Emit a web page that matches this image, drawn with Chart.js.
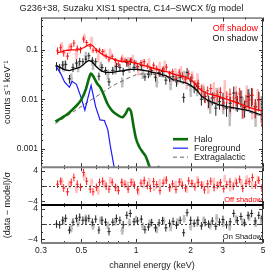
<!DOCTYPE html>
<html><head><meta charset="utf-8">
<script src="https://cdn.jsdelivr.net/npm/chart.js"></script>
<style>html,body{margin:0;padding:0;background:#fff;overflow:hidden}</style>
</head><body>
<canvas id="c" width="274" height="274" style="width:274px;height:274px;display:block"></canvas>
<script>
const chartTitle = 'G236+38, Suzaku XIS1 spectra, C14\u2013SWCX f/g model';
const xTicks = [0.3, 0.5, 1, 2, 3, 5];
const xMinorTicks = [0.4, 0.6, 0.7, 0.8, 0.9, 4];
const residTicks = [-4, 0, 4];
const residMinorTicks = [-2, 2];

// Off shadow spectrum
const offE = [0.37,0.385,0.40,0.42,0.44,0.455,0.475,0.495,0.515,0.535,0.56,0.58,0.605,0.63,0.655,0.685,0.71,0.74,0.77,0.80,0.835,0.87,0.905,0.94,0.98,1.02,1.065,1.11,1.155,1.2,1.25,1.3,1.355,1.41,1.47,1.53,1.59,1.66,1.73,1.8,1.87,1.95,2.03,2.11,2.2,2.29,2.38,2.48,2.58,2.69,2.8,2.92,3.04,3.16,3.29,3.43,3.57,3.72,3.87,4.03,4.2,4.37,4.55,4.74,4.93];
const offVal = [0.0955,0.110,0.0865,0.0745,0.116,0.137,0.1075,0.100,0.165,0.140,0.1175,0.098,0.0965,0.0985,0.0925,0.074,0.0633,0.0739,0.0607,0.0514,0.065,0.0615,0.0524,0.0627,0.056,0.0461,0.0552,0.0574,0.0472,0.0406,0.0491,0.0422,0.0325,0.0411,0.0446,0.0329,0.036,0.0265,0.0353,0.030,0.0256,0.0326,0.0272,0.0202,0.0206,0.016,0.0109,0.0148,0.0164,0.0108,0.0121,0.0137,0.0084,0.0112,0.0126,0.009,0.0107,0.0128,0.0061,0.009,0.0097,0.012,0.0069,0.0095,0.0046];
const offErr = [0.17,0.17,0.16,0.16,0.16,0.16,0.15,0.15,0.14,0.13,0.12,0.12,0.12,0.12,0.12,0.12,0.12,0.12,0.12,0.12,0.12,0.12,0.12,0.12,0.12,0.13,0.13,0.13,0.13,0.13,0.14,0.14,0.14,0.14,0.15,0.15,0.15,0.16,0.16,0.17,0.17,0.18,0.19,0.2,0.21,0.22,0.22,0.23,0.24,0.25,0.26,0.27,0.28,0.29,0.3,0.31,0.32,0.33,0.34,0.35,0.36,0.37,0.38,0.39,0.4];
const offModel = [0.088,0.09,0.094,0.098,0.1,0.1,0.1,0.105,0.11,0.12,0.13,0.12,0.1,0.088,0.08,0.074,0.07,0.066,0.063,0.06,0.058,0.058,0.058,0.056,0.054,0.053,0.05,0.048,0.046,0.044,0.042,0.04,0.039,0.037,0.036,0.035,0.033,0.031,0.03,0.029,0.028,0.026,0.024,0.021,0.017,0.015,0.014,0.013,0.0125,0.012,0.0115,0.011,0.0105,0.01,0.0095,0.009,0.0085,0.008,0.0076,0.0072,0.0068,0.0065,0.0062,0.006,0.0058];
const offResid = [0.5,1.3,-0.5,-1.5,1.0,2.3,0.5,-0.3,3.6,1.3,-0.8,-1.5,-0.3,1.0,1.3,0.0,-0.8,1.0,-0.3,-1.2,1.0,0.5,-0.8,1.0,0.3,-1.0,0.8,1.5,0.2,-0.6,1.2,0.4,-1.2,0.8,1.6,-0.4,0.6,-0.9,1.1,0.2,-0.5,1.4,0.7,-0.2,1.0,0.3,-1.0,0.6,1.3,-0.4,0.2,0.9,-0.7,0.4,1.1,0.0,0.8,1.8,-0.6,0.7,1.2,2.3,0.3,1.5,-0.5];

// On shadow spectrum
const onE = [0.365,0.38,0.395,0.41,0.43,0.45,0.47,0.49,0.51,0.53,0.55,0.575,0.6,0.625,0.65,0.68,0.71,0.745,0.78,0.815,0.85,0.89,0.93,0.975,1.02,1.07,1.12,1.17,1.22,1.28,1.34,1.4,1.46,1.53,1.6,1.67,1.75,1.83,1.91,2.0,2.09,2.19,2.29,2.4,2.51,2.63,2.75,2.88,3.01,3.15,3.3,3.45,3.61,3.78,3.96,4.14,4.33,4.53,4.74,4.95];
const onVal = [0.047,0.0432,0.0492,0.0507,0.0258,0.044,0.054,0.0583,0.0573,0.065,0.0756,0.0616,0.0574,0.0292,0.0437,0.0382,0.0224,0.0382,0.0457,0.0437,0.0366,0.0551,0.059,0.0441,0.0454,0.0476,0.0283,0.032,0.0375,0.0279,0.0348,0.0363,0.0243,0.0281,0.0285,0.0225,0.0278,0.0109,0.0349,0.0234,0.0174,0.0181,0.01,0.0114,0.0092,0.0106,0.0066,0.0089,0.0102,0.0066,0.0083,0.0133,0.0086,0.011,0.0068,0.0113,0.012,0.0071,0.0099,0.008];
const onErr = [0.2,0.2,0.2,0.2,0.2,0.2,0.19,0.18,0.17,0.16,0.16,0.16,0.17,0.18,0.18,0.18,0.18,0.18,0.18,0.18,0.18,0.18,0.17,0.17,0.17,0.17,0.17,0.17,0.18,0.18,0.18,0.19,0.19,0.2,0.2,0.21,0.21,0.22,0.22,0.23,0.24,0.25,0.26,0.27,0.28,0.29,0.3,0.31,0.32,0.33,0.34,0.35,0.36,0.37,0.38,0.4,0.41,0.42,0.43,0.44];
const onModel = [0.047,0.045,0.041,0.039,0.038,0.04,0.042,0.044,0.049,0.056,0.061,0.057,0.047,0.041,0.037,0.035,0.035,0.035,0.036,0.037,0.038,0.039,0.04,0.04,0.04,0.039,0.038,0.037,0.035,0.034,0.033,0.031,0.03,0.027,0.025,0.024,0.023,0.022,0.021,0.019,0.017,0.0145,0.0115,0.0103,0.0092,0.0086,0.0081,0.0077,0.0074,0.0071,0.0069,0.0067,0.0065,0.0063,0.0061,0.0059,0.0056,0.0053,0.005,0.0048];
const onResid = [0.0,-0.2,1.0,1.5,-1.6,0.5,1.5,1.8,1.0,1.0,1.5,0.5,1.3,-1.6,1.0,0.5,-2.0,0.5,1.5,1.0,-0.2,2.3,2.8,0.6,0.8,1.3,-1.5,-0.8,0.4,-1.0,0.3,0.9,-1.0,0.2,0.7,-0.3,1.0,-2.3,3.0,1.0,0.2,1.0,-0.5,0.4,0.0,0.8,-0.6,0.5,1.2,-0.2,0.6,2.8,0.9,2.0,0.3,2.3,2.8,0.8,2.3,1.5];

// Second (faint) spectra
const offFaintE = [0.39,0.43,0.47,0.52,0.57,0.62,0.67,0.72,0.78,0.84,0.9,0.96,1.03,1.1,1.18,1.26,1.35,1.44,1.54,1.65,1.77,1.9,2.04,2.18,2.34,2.5,2.68,2.87,3.08,3.3,3.54,3.8,4.07,4.36,4.68];
const offFaintVal = [0.1175,0.1077,0.0824,0.1736,0.1536,0.070,0.0874,0.0883,0.0558,0.0673,0.0603,0.066,0.0371,0.0528,0.0554,0.0392,0.0468,0.0486,0.0301,0.0341,0.0371,0.0213,0.0286,0.0261,0.0158,0.009,0.0166,0.0129,0.0177,0.0081,0.0132,0.0105,0.0131,0.0072,0.0109];
const offFaintErr = [0.22,0.22,0.22,0.22,0.2,0.2,0.2,0.2,0.2,0.2,0.2,0.2,0.2,0.21,0.22,0.22,0.22,0.23,0.24,0.25,0.25,0.26,0.27,0.28,0.3,0.31,0.32,0.34,0.36,0.38,0.4,0.42,0.44,0.46,0.48];
const offFaintResid = [1.2,0.4,-0.8,2.5,1.0,-1.2,0.6,1.4,-0.5,0.8,0.2,1.0,-1.5,0.5,1.2,-0.3,0.9,1.5,-0.6,0.4,1.1,-0.8,0.7,1.6,0.3,-1.0,1.2,0.5,2.0,-0.4,1.3,0.8,1.9,0.2,1.7];
const onFaintE = [0.4,0.44,0.48,0.53,0.58,0.64,0.7,0.77,0.84,0.92,1.0,1.09,1.19,1.3,1.42,1.55,1.69,1.84,2.0,2.17,2.36,2.56,2.78,3.02,3.28,3.56,3.86,4.19,4.55,4.9];
const onFaintVal = [0.048,0.0266,0.0461,0.0745,0.0498,0.0467,0.0326,0.041,0.0223,0.0435,0.0506,0.033,0.0366,0.0224,0.0358,0.0202,0.0266,0.0296,0.0153,0.0164,0.0139,0.0077,0.0125,0.008,0.0047,0.0101,0.0075,0.0109,0.0057,0.0074];
const onFaintErr = [0.25,0.25,0.24,0.22,0.22,0.23,0.23,0.23,0.23,0.22,0.22,0.22,0.23,0.23,0.24,0.25,0.26,0.27,0.28,0.3,0.32,0.34,0.36,0.38,0.4,0.43,0.46,0.49,0.52,0.55];
const onFaintResid = [0.8,-1.2,0.3,1.5,-0.5,1.0,-0.3,0.6,-1.8,0.4,1.2,-0.6,0.2,-1.4,0.8,-0.9,0.5,1.4,-0.7,0.3,1.0,-0.4,1.6,0.2,-0.8,1.3,0.5,1.8,0.2,1.0];

// Model components
const haloE = [0.36,0.39,0.42,0.46,0.5,0.53,0.55,0.565,0.585,0.61,0.635,0.66,0.7,0.74,0.79,0.84,0.88,0.91,0.94,0.97,1.0,1.04,1.08,1.13,1.19,1.26,1.31,1.33,1.36,1.42,1.7];
const haloVal = [0.0035,0.0042,0.005,0.0068,0.0098,0.016,0.026,0.033,0.028,0.021,0.0175,0.013,0.0078,0.0058,0.0048,0.0043,0.0052,0.0065,0.0055,0.0028,0.0016,0.0011,0.00088,0.0007,0.00042,0.00026,0.00036,0.00043,0.00035,0.0002,0.00008];
const fgE = [0.365,0.385,0.405,0.43,0.445,0.47,0.5,0.523,0.545,0.566,0.6,0.634,0.67,0.70,0.72,0.76,0.8];
const fgVal = [0.045,0.033,0.022,0.0175,0.023,0.02,0.0105,0.006,0.011,0.019,0.007,0.0038,0.0037,0.0024,0.0012,0.0004,0.0001];
const egE = [0.36,0.45,0.55,0.65,0.75,0.85,1.0,1.15,1.3,1.5,1.75,2.0,2.2,2.4,2.7,3.0,3.5,4.0,4.5,5.0];
const egVal = [0.0032,0.0055,0.009,0.0135,0.019,0.024,0.031,0.033,0.031,0.027,0.022,0.018,0.0135,0.0098,0.0078,0.007,0.0063,0.0058,0.005,0.0045];

const FONT = "'Liberation Sans', Arial, sans-serif";
const TXT = '#222';

function xExtent(xs, frac){
  return xs.map((x,i)=>{
    const a = i>0 ? Math.log(x/xs[i-1]) : Math.log(xs[i+1]/x);
    const b = i<xs.length-1 ? Math.log(xs[i+1]/x) : a;
    return [x*Math.exp(-a*frac), x*Math.exp(b*frac)];
  });
}
function crosses(xs, ys, lo, hi, frac){
  const w = xExtent(xs, frac), pts = [];
  xs.forEach((x,i)=>{
    pts.push({x:x,y:lo[i]},{x:x,y:hi[i]},{x:x,y:null},{x:w[i][0],y:ys[i]},{x:w[i][1],y:ys[i]},{x:x,y:null});
  });
  return pts;
}
const specCross = (xs, v, e, f) => crosses(xs, v, v.map((a,i)=>a*(1-e[i])), v.map((a,i)=>a*(1+e[i])), f);
const residCross = (xs, r, f) => crosses(xs, r, r.map(a=>a-1), r.map(a=>a+1), f);
const pairs = (xs, ys) => xs.map((x,i)=>({x:x, y:ys[i]}));

const base = {pointRadius:0, pointHoverRadius:0, fill:false, spanGaps:false, borderCapStyle:'butt'};
const datasets = [
  {...base, label:'Halo', data:pairs(haloE, haloVal), borderColor:'#0a6e0a', borderWidth:2.6, cubicInterpolationMode:'monotone', yAxisID:'y', order:1},
  {...base, label:'Foreground', data:pairs(fgE, fgVal), borderColor:'#1a1aff', borderWidth:1.2, tension:0, yAxisID:'y', order:2},
  {...base, label:'Extragalactic', data:pairs(egE, egVal), borderColor:'#666', borderWidth:1, borderDash:[4,3], tension:0.2, yAxisID:'y', order:3},
  {...base, label:'Off model', data:pairs(offE, offModel), borderColor:'#ff0000', borderWidth:1.3, yAxisID:'y', order:4},
  {...base, label:'On model', data:pairs(onE, onModel), borderColor:'#000', borderWidth:1.3, yAxisID:'y', order:5},
  {...base, label:'Off data', data:specCross(offE, offVal, offErr, 0.45), borderColor:'#ff1a1a', borderWidth:1, yAxisID:'y', order:6},
  {...base, label:'On data', data:specCross(onE, onVal, onErr, 0.45), borderColor:'#222', borderWidth:1, yAxisID:'y', order:7},
  {...base, label:'Off data 2', data:specCross(offFaintE, offFaintVal, offFaintErr, 0.25), borderColor:'rgba(255,60,60,0.32)', borderWidth:2.5, yAxisID:'y', order:8},
  {...base, label:'On data 2', data:specCross(onFaintE, onFaintVal, onFaintErr, 0.25), borderColor:'rgba(0,0,0,0.26)', borderWidth:2.5, yAxisID:'y', order:9},
  {...base, label:'Off resid', data:residCross(offE, offResid, 0.45), borderColor:'#ff1a1a', borderWidth:1, yAxisID:'yr1', order:10},
  {...base, label:'Off resid 2', data:residCross(offFaintE, offFaintResid, 0.25), borderColor:'rgba(255,60,60,0.32)', borderWidth:2.5, yAxisID:'yr1', order:11},
  {...base, label:'On resid', data:residCross(onE, onResid, 0.45), borderColor:'#222', borderWidth:1, yAxisID:'yr2', order:12},
  {...base, label:'On resid 2', data:residCross(onFaintE, onFaintResid, 0.25), borderColor:'rgba(0,0,0,0.26)', borderWidth:2.5, yAxisID:'yr2', order:13}
];
const legendLabels = ['Halo','Foreground','Extragalactic'];

const panelClip = {
  id:'panelClip',
  beforeDatasetDraw(chart, args){
    const ds = chart.data.datasets[args.index];
    const s = chart.scales[ds.yAxisID];
    const ctx = chart.ctx;
    ctx.save(); ctx.beginPath();
    ctx.rect(chart.chartArea.left, s.top, chart.chartArea.right-chart.chartArea.left, s.bottom-s.top);
    ctx.clip();
  },
  afterDatasetDraw(chart){ chart.ctx.restore(); }
};

const frame = {
  id:'frame',
  afterDatasetsDraw(chart){
    const ctx = chart.ctx, x = chart.scales.x, y = chart.scales.y, r1 = chart.scales.yr1, r2 = chart.scales.yr2;
    const L = x.left, R = x.right;
    ctx.save();
    const seg = (a,b,c,d)=>{ctx.beginPath();ctx.moveTo(a,b);ctx.lineTo(c,d);ctx.stroke();};
    ctx.strokeStyle = '#444'; ctx.lineWidth = 1; ctx.setLineDash([2,2]);
    [r1,r2].forEach(s=>{const py=Math.round(s.getPixelForValue(0))+0.5; seg(L,py,R,py);});
    ctx.setLineDash([]);
    ctx.strokeStyle = '#333'; ctx.lineWidth = 1;
    [y,r1,r2].forEach(s=>{
      xTicks.concat(xMinorTicks).forEach(v=>{
        const len = xTicks.includes(v)?4:2; const px = Math.round(x.getPixelForValue(v))+0.5;
        seg(px,s.top,px,s.top+len); seg(px,s.bottom,px,s.bottom-len);
      });
    });
    y.ticks.forEach(t=>{
      const v = t.value; if (v<=y.min*1.01 || v>=y.max*0.99) return;
      const lg = Math.log10(v); const major = Math.abs(lg-Math.round(lg))<1e-6;
      const len = major?4:2; const py = Math.round(y.getPixelForValue(v))+0.5;
      seg(L,py,L+len,py); seg(R,py,R-len,py);
    });
    [r1,r2].forEach(s=>{
      residTicks.concat(residMinorTicks).forEach(v=>{
        const len = residTicks.includes(v)?4:2; const py = Math.round(s.getPixelForValue(v))+0.5;
        seg(L,py,L+len,py); seg(R,py,R-len,py);
      });
    });
    ctx.strokeStyle = '#333'; ctx.lineWidth = 1;
    ctx.beginPath(); ctx.moveTo(L+0.5,r2.bottom); ctx.lineTo(L+0.5,y.top+0.5); ctx.lineTo(R-0.5,y.top+0.5); ctx.lineTo(R-0.5,r2.bottom); ctx.stroke();
    ctx.lineWidth = 2;
    ctx.strokeStyle = '#7f7f7f'; seg(L,y.bottom,R,y.bottom);
    ctx.strokeStyle = '#000'; seg(L,r1.bottom,R,r1.bottom);
    ctx.strokeStyle = '#7f7f7f'; seg(L,r2.bottom,R,r2.bottom);
    ctx.textBaseline = 'middle'; ctx.textAlign = 'right';
    ctx.font = '9px ' + FONT;
    ctx.fillStyle = '#ff0000'; ctx.fillText('Off shadow', R-5, y.top+11);
    ctx.fillStyle = '#111'; ctx.fillText('On shadow', R-5, y.top+21);
    ctx.font = '7.5px ' + FONT;
    ctx.fillStyle = '#ff0000'; ctx.fillText('Off shadow', R-1, r1.bottom-5);
    ctx.fillStyle = '#111'; ctx.fillText('On Shadow', R-1, r2.bottom-6);
    ctx.textAlign = 'left'; ctx.font = '9px ' + FONT; ctx.fillStyle = TXT;
    const lx = R - 90, rows = [y.bottom-28, y.bottom-19, y.bottom-10];
    legendLabels.forEach((lab,i)=>{
      const ds = chart.data.datasets.find(d=>d.label===lab);
      ctx.strokeStyle = ds.borderColor; ctx.lineWidth = ds.borderWidth;
      ctx.setLineDash(ds.borderDash || []);
      seg(lx, rows[i], lx+15, rows[i]);
      ctx.setLineDash([]);
      ctx.fillText(lab, lx+21, rows[i]);
    });
    ctx.save();
    ctx.translate(8, (r1.top + r2.bottom)/2); ctx.rotate(-Math.PI/2);
    ctx.textAlign = 'center'; ctx.font = '9px ' + FONT; ctx.fillStyle = TXT;
    ctx.fillText('(data \u2212 model)/\u03c3', 0, 0);
    ctx.restore();
    ctx.restore();
  }
};

const tickFont = {family: FONT, size: 8.5};
const residAxis = (w) => ({
  type:'linear', min:-5, max:5, position:'left', stack:'panels', stackWeight:w,
  afterBuildTicks: s => { s.ticks = residTicks.map(v=>({value:v})); },
  afterFit: s => { s.width = 41; },
  grid:{display:false, drawTicks:false}, border:{display:false},
  ticks:{font:tickFont, color:TXT, padding:3, callback: v => v<0 ? '\u2212'+Math.abs(v) : String(v)}
});

new Chart(document.getElementById('c'), {
  type:'line',
  data:{datasets},
  plugins:[panelClip, frame],
  options:{
    responsive:false, animation:false, devicePixelRatio:1,
    layout:{padding:{left:0, right:11, top:0, bottom:0}},
    plugins:{
      legend:{display:false}, tooltip:{enabled:false},
      title:{display:true, text:chartTitle, color:TXT, font:{family:FONT, size:9.2, weight:'normal'}, padding:{top:2.5, bottom:4}}
    },
    scales:{
      x:{type:'logarithmic', min:0.3, max:5, position:'bottom',
         afterBuildTicks: s => { s.ticks = xTicks.map(v=>({value:v})); },
         afterFit: s => { s.height = 31; },
         grid:{display:false, drawTicks:false}, border:{display:false},
         ticks:{font:tickFont, color:TXT, padding:3, maxRotation:0, autoSkip:false, callback: v => String(v)},
         title:{display:true, text:'channel energy (keV)', color:TXT, font:{family:FONT, size:9}, padding:{top:0, bottom:3}}
      },
      yr2: residAxis(38),
      yr1: residAxis(38),
      y:{type:'logarithmic', min:4.2e-4, max:0.45, position:'left', stack:'panels', stackWeight:150,
         afterFit: s => { s.width = 41; },
         grid:{display:false, drawTicks:false}, border:{display:false},
         ticks:{font:tickFont, color:TXT, padding:3, autoSkip:false, callback: v => {
           const lg = Math.log10(v); return Math.abs(lg-Math.round(lg))<1e-6 ? String(Number(v.toPrecision(1))) : ''; }},
         title:{display:true, text:'counts s\u207b\u00b9 keV\u207b\u00b9', color:TXT, font:{family:FONT, size:9}, padding:{top:2, bottom:0}}
      }
    }
  }
});
</script>
</body></html>
